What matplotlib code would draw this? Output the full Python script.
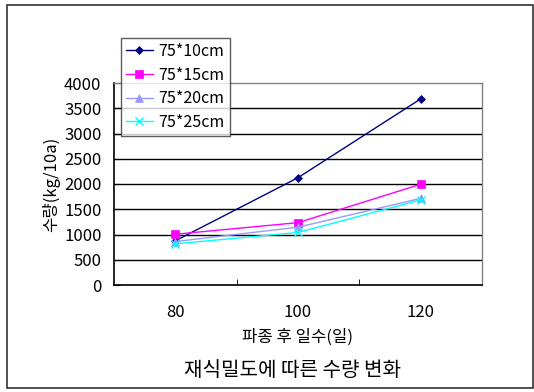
import matplotlib
matplotlib.use("Agg")
import matplotlib.pyplot as plt
from matplotlib.patches import Rectangle

plt.rcParams['font.family'] = ['Noto Sans CJK KR', 'DejaVu Sans']

days = ['80', '100', '120']
series_names = ['75*10cm', '75*15cm', '75*20cm', '75*25cm']
yield_75x10 = [875, 2125, 3685]
yield_75x15 = [1005, 1235, 1995]
yield_75x20 = [860, 1145, 1715]
yield_75x25 = [815, 1040, 1685]
y_ticks = [0, 500, 1000, 1500, 2000, 2500, 3000, 3500, 4000]

colors = ['#000080', '#FF00FF', '#9999FF', '#00FFFF']
markers = ['D', 's', '^', 'x']
msizes = [4, 6, 6, 6]

W, H = 534, 392
fig = plt.figure(figsize=(W / 100, H / 100), dpi=100)
fig.patch.set_facecolor('white')

# outer chart border
fig.patches.append(Rectangle((7 / W, 1 - 388 / H), (W - 8) / W, (388 - 5) / H,
                             transform=fig.transFigure, fill=False,
                             edgecolor='#333333', linewidth=1.2))

ax = fig.add_axes([114 / W, 1 - 285 / H, (482 - 114) / W, (285 - 83) / H])

x = list(range(len(days)))
all_series = [yield_75x10, yield_75x15, yield_75x20, yield_75x25]
for vals, name, c, m, ms in zip(all_series, series_names, colors, markers, msizes):
    ax.plot(x, vals, color=c, marker=m, markersize=ms, linewidth=1.0,
            label=name, markeredgewidth=1.0 if m == 'x' else 0.5, zorder=3)

ax.set_xlim(-0.5, len(days) - 0.5)
ax.set_ylim(0, 4000)
ax.set_yticks(y_ticks)
ax.set_yticklabels([str(v) for v in y_ticks])
ax.set_xticks(x)
ax.set_xticklabels(days)
ax.set_xticks([0.5, 1.5], minor=True)
ax.tick_params(axis='x', which='major', length=0, pad=14, labelsize=12)
ax.tick_params(axis='x', which='minor', length=4, direction='in', color='black')
ax.tick_params(axis='y', length=4, direction='in', pad=9, labelsize=12)

for v in y_ticks[1:-1]:
    ax.axhline(v, color='black', linewidth=1.0, zorder=1)

for side in ['top', 'right']:
    ax.spines[side].set_color('#808080')
    ax.spines[side].set_linewidth(1.0)
for side in ['left', 'bottom']:
    ax.spines[side].set_color('black')
    ax.spines[side].set_linewidth(1.2)

ax.set_ylabel('수량(kg/10a)', fontsize=12, labelpad=3)
ax.set_xlabel('파종 후 일수(일)', fontsize=12, labelpad=5)

leg = ax.legend(loc='upper left', bbox_to_anchor=(121 / W, 1 - 38 / H),
                bbox_transform=fig.transFigure, frameon=True, fancybox=False,
                edgecolor='#333333', fontsize=11.5, handlelength=1.7,
                borderpad=0.3, labelspacing=0.42, handletextpad=0.35,
                borderaxespad=0)
leg.get_frame().set_linewidth(1.0)

fig.text(293 / W, 1 - 370 / H, '재식밀도에 따른 수량 변화', ha='center',
         va='center', fontsize=14.5)

fig.savefig('out.png', dpi=100, facecolor='white')
